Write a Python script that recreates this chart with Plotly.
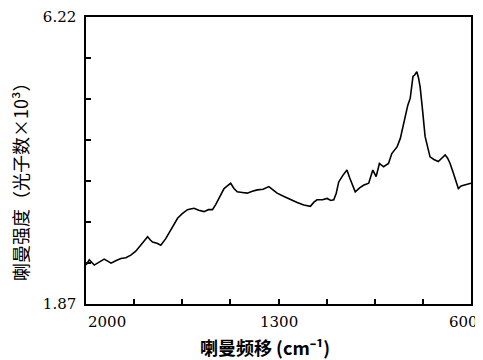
import plotly.graph_objects as go

# Raman shift (cm^-1) and intensity (photon counts x 10^3)
shift = [2000, 1988, 1970, 1952, 1934, 1921, 1909, 1890, 1873, 1855, 1837, 1819,
         1801, 1788, 1776, 1766, 1758, 1742, 1728, 1710, 1692, 1680, 1667, 1650,
         1631, 1620, 1607, 1590, 1571, 1555, 1540, 1528, 1517, 1505, 1498, 1486,
         1474, 1462, 1450, 1432, 1414, 1395, 1377, 1356, 1335, 1320, 1305, 1280,
         1256, 1232, 1208, 1196, 1184, 1172, 1160, 1140, 1123, 1110, 1099, 1090,
         1081, 1066, 1051, 1042, 1033, 1021, 1005, 991, 972, 957, 945, 933,
         918, 900, 888, 869, 857, 848, 839, 830, 821, 811, 805, 797, 791, 785,
         776, 767, 749, 735, 719, 706, 694, 685, 676, 664, 646, 636, 628, 612, 600]
intensity = [2.46, 2.54, 2.46, 2.50, 2.55, 2.52, 2.49, 2.53, 2.56, 2.57, 2.61, 2.67,
             2.76, 2.82, 2.89, 2.84, 2.81, 2.79, 2.76, 2.86, 2.99, 3.08, 3.17, 3.24,
             3.30, 3.31, 3.32, 3.29, 3.27, 3.30, 3.30, 3.38, 3.47, 3.58, 3.62, 3.66,
             3.70, 3.62, 3.57, 3.56, 3.55, 3.58, 3.60, 3.61, 3.65, 3.60, 3.55, 3.50,
             3.45, 3.41, 3.37, 3.36, 3.35, 3.41, 3.45, 3.45, 3.47, 3.44, 3.45, 3.55,
             3.72, 3.82, 3.90, 3.79, 3.70, 3.57, 3.63, 3.67, 3.70, 3.90, 3.80, 4.00,
             3.95, 4.00, 4.15, 4.25, 4.38, 4.55, 4.76, 4.88, 4.99, 5.32, 5.34, 5.39,
             5.30, 5.16, 4.80, 4.41, 4.10, 4.06, 4.03, 4.08, 4.13, 4.08, 4.00, 3.85,
             3.62, 3.66, 3.67, 3.68, 3.70]

x_ticks = [2000, 1825, 1650, 1475, 1300, 1125, 950, 775, 600]
x_labels = {2000: "2000", 1300: "1300", 600: "600"}
y_ticks = [1.87, 2.4914, 3.1129, 3.7343, 4.3557, 4.9771, 5.5986, 6.22]
y_ticktext = ["1.87", "", "", "", "", "", "", "6.22"]

fig = go.Figure()
fig.add_trace(go.Scatter(x=shift, y=intensity, mode="lines",
                         line=dict(color="black", width=1.6), showlegend=False))

tick_font = dict(family="DejaVu Serif", size=15, color="black")
anns = []
for v, t in x_labels.items():
    anchor = "left" if v == x_ticks[0] else ("right" if v == x_ticks[-1] else "center")
    shift_px = 0 if anchor == "left" else (9 if anchor == "right" else 0)
    anns.append(dict(text=t, x=v, xref="x", y=-0.025, yref="paper", yanchor="top",
                     xanchor=anchor, xshift=shift_px, showarrow=False, font=tick_font))

anns += [
    dict(text="喇曼强度（光子数×10³）", textangle=-90, xref="paper", yref="paper",
         x=-0.171, y=0.44, xanchor="center", yanchor="middle", showarrow=False,
         font=dict(family="Noto Sans CJK SC", size=18, color="black")),
    dict(text="<b>喇曼频移 (cm⁻¹)</b>", xref="paper", yref="paper",
         x=0.465, y=-0.15, xanchor="center", yanchor="middle", showarrow=False,
         font=dict(family="Noto Sans CJK SC", size=18, color="black")),
]

# page body has an 8px default margin, so the figure is sized to fit the 483x360 window
fig.update_layout(
    width=475, height=352,
    margin=dict(l=78, r=12, t=9, b=56, autoexpand=False),
    paper_bgcolor="white", plot_bgcolor="white",
    font=tick_font,
    xaxis=dict(range=[2000, 600], tickvals=x_ticks, showticklabels=False,
               ticks="inside", ticklen=5, tickwidth=1.5, tickcolor="black",
               showline=True, linecolor="black", linewidth=1.5, mirror=True,
               showgrid=False, zeroline=False, automargin=False),
    yaxis=dict(range=[1.87, 6.22], tickvals=y_ticks, ticktext=y_ticktext,
               ticks="inside", ticklen=5, tickwidth=1.5, tickcolor="black",
               ticklabelstandoff=5,
               showline=True, linecolor="black", linewidth=1.5, mirror=True,
               showgrid=False, zeroline=False, automargin=False),
    annotations=anns,
)

fig.write_html("out.html")
